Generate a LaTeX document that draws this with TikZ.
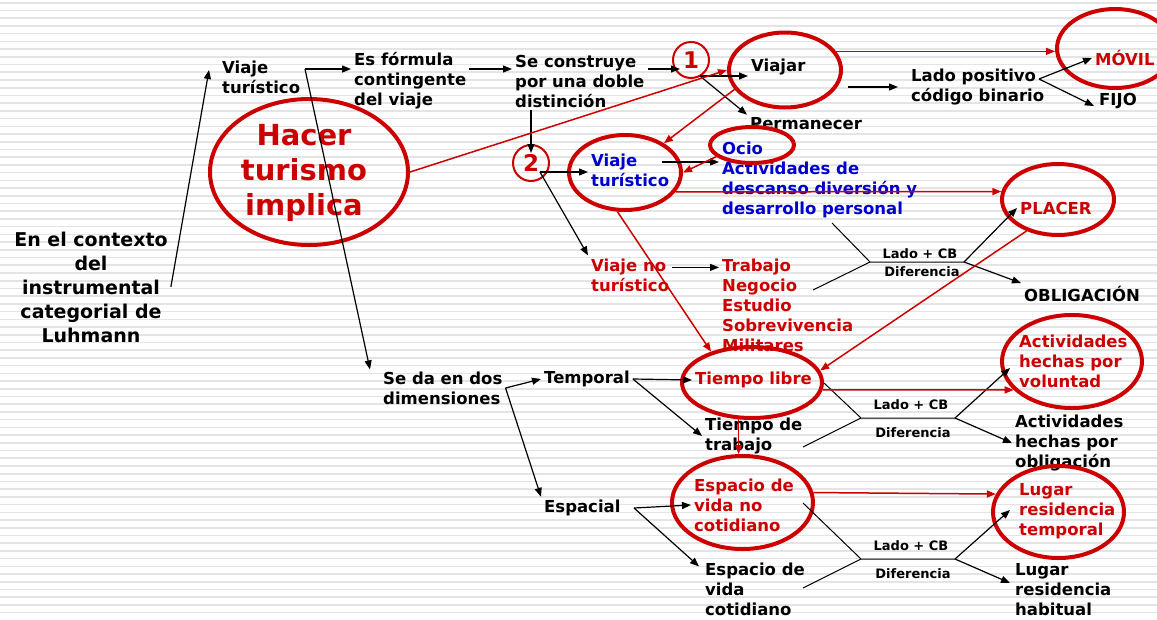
\documentclass[tikz,border=0pt]{standalone}
\usepackage{fontspec}
\setmainfont{DejaVu Sans}
\usetikzlibrary{arrows.meta,calc,shapes.geometric}

\definecolor{tred}{RGB}{204,0,0}
\definecolor{tblue}{RGB}{0,0,204}
\definecolor{stripegray}{RGB}{228,228,228}

\tikzset{
  txt/.style={anchor=west, align=left, inner sep=3pt,
    font=\bfseries\fontsize{16.5}{20}\selectfont},
  red txt/.style={txt, text=tred},
  blue txt/.style={txt, text=tblue},
  small txt/.style={inner sep=1pt, font=\bfseries\fontsize{13}{15}\selectfont},
  ring/.style={ellipse, draw=tred, line width=4pt, inner sep=0pt},
  num/.style={circle, draw=tred, line width=2pt, minimum size=36pt,
    inner sep=0pt, text=tred, font=\bfseries\fontsize{23}{23}\selectfont},
  arr/.style={-{Triangle[length=9pt,width=7pt]}, line width=1.2pt},
  red arr/.style={arr, draw=tred, line width=1.5pt},
  fork/.style={line width=1pt},
}

\begin{document}
\begin{tikzpicture}[x=1pt, y=-1pt]
  \useasboundingbox (0,0) rectangle (1157,619);
  % striped background
  \fill[white] (0,0) rectangle (1157,619);
  \foreach \i in {0,...,79}
    \draw[stripegray, line width=1.6pt] (0,{2.8+7.72*\i}) -- (1157,{2.8+7.72*\i});

  % texts
  \node[txt, anchor=center, align=center,
    font=\bfseries\fontsize{19}{24}\selectfont] (ctx) at (91,287)
    {En el contexto\\del\\instrumental\\categorial de\\Luhmann};
  \node[txt] (vt1) at (219,77) {Viaje\\turístico};
  \node[txt] (esf) at (351,81) {Es fórmula\\contingente\\del viaje};
  \node[txt] (secons) at (512,81) {Se construye\\por una doble\\distinción};
  \node[txt] (viajar) at (748,67) {Viajar};
  \node[txt] (perm) at (747,124) {Permanecer};
  \node[txt] (ladop) at (908,87) {Lado positivo\\código binario};
  \node[red txt] (movil) at (1092,58) {MÓVIL};
  \node[txt] (fijo) at (1096,101) {FIJO};
  \node[blue txt] (blue) at (719,180) {Ocio\\Actividades de\\descanso diversión y\\desarrollo personal};
  \node[blue txt] (vtur) at (588,170) {Viaje\\turístico};
  \node[red txt] (vnotur) at (588,275) {Viaje no\\turístico};
  \node[red txt] (trab) at (719,305) {Trabajo\\Negocio\\Estudio\\Sobrevivencia\\Militares};
  \node[red txt] (placer) at (1017,208) {PLACER};
  \node[txt] (oblig) at (1021,294) {OBLIGACIÓN};
  \node[txt] (seda) at (380,388) {Se da en dos\\dimensiones};
  \node[txt] (temporal) at (541,379) {Temporal};
  \node[txt] (espacial) at (541,508) {Espacial};
  \node[red txt] (tlibre) at (692,380) {Tiempo libre};
  \node[txt] (ttrab) at (702,436) {Tiempo de\\trabajo};
  \node[red txt] (voluntad) at (1016,361) {Actividades\\hechas por\\voluntad};
  \node[txt] (obligacion) at (1012,443) {Actividades\\hechas por\\obligación};
  \node[red txt] (espnc) at (691,505) {Espacio de\\vida no\\cotidiano};
  \node[txt] (espc) at (702,589) {Espacio de\\vida\\cotidiano};
  \node[red txt] (lugt) at (1016,511) {Lugar\\residencia\\temporal};
  \node[txt] (lugh) at (1012,590) {Lugar\\residencia\\habitual};
  \node[text=tred, font=\bfseries\fontsize{29}{35}\selectfont, align=center]
    (hacer) at (304,173) {Hacer\\turismo\\implica};

  % red rings
  \node[ring, minimum width=198pt, minimum height=146pt] (hacerE) at (309,172) {};
  \node[ring, minimum width=112pt, minimum height=75pt] (viajarE) at (785,70) {};
  \node[ring, minimum width=116pt, minimum height=79pt] (movilE) at (1115,48.5) {};
  \node[ring, minimum width=84pt, minimum height=36pt] (ocioE) at (752,145) {};
  \node[ring, minimum width=112pt, minimum height=75pt] (vturE) at (625,172.5) {};
  \node[ring, minimum width=112pt, minimum height=71pt] (placerE) at (1058,199.5) {};
  \node[ring, minimum width=140pt, minimum height=71pt] (tlibreE) at (752,382.5) {};
  \node[ring, minimum width=140pt, minimum height=93pt] (volE) at (1072,361.5) {};
  \node[ring, minimum width=141pt, minimum height=93pt] (espE) at (742.5,502.5) {};
  \node[ring, minimum width=131pt, minimum height=92pt] (lugE) at (1058.5,512) {};
  \node[num] (c1) at (691,60) {1};
  \node[num] (c2) at (531,163) {2};

  % black connectors
  \coordinate (fv) at (305,69);
  \coordinate (f1) at (700,76);
  \coordinate (fl) at (1039,79);
  \coordinate (f2) at (540,172);
  \coordinate (fe) at (634,508);
  \coordinate (fo) at ($(vtur.east)+(-10,-8)$);
  \coordinate (ft) at ($(vnotur.north east)+(0,12)$);
  \draw[arr] (ctx.east) -- ($(vt1.west)+(-10,-7)$);
  \draw[arr] (fv) -- (fv -| esf.west);
  \draw[arr] (fv) -- ($(seda.north west)+(-10,1)$);
  \draw[arr] (esf.east |- fv) -- (secons.west |- fv);
  \draw[arr] (secons.east |- fv) -- ($(c1.west |- fv)+(8,0)$);
  \draw[arr] (f1) -- (f1 -| viajar.west);
  \draw[arr] (f1) -- (perm.north west);
  \draw[arr, shorten <=5pt] (viajarE.east |- ladop.west) -- ($(ladop.west)+(-10,0)$);
  \draw[arr] (fl) -- (movil.west);
  \draw[arr] (fl) -- ($(fijo.west)+(-2,5)$);
  \draw[arr] (c2 |- secons.south) -- ($(c2.north)+(0,9)$);
  \draw[arr] (f2) -- (f2 -| vtur.west);
  \draw[arr] (f2) -- (vnotur.north west);
  \draw[arr] (fo) -- (fo -| blue.west);
  \draw[arr] (ft) -- (ft -| trab.west);
  \draw[arr] (seda.east) -- (temporal.west);
  \draw[arr] (seda.east) -- (espacial.north west);
  \draw[arr] (temporal.east) -- (tlibre.west);
  \draw[arr] (temporal.east) -- (ttrab.west);
  \draw[arr] (fe) -- (espnc.west);
  \draw[arr] (fe) -- ($(espc.north west)+(-3,7)$);

  % Lado + CB forks
  \coordinate (aA) at (832,223); \coordinate (bA) at (813,290);
  \coordinate (jA) at (870,262); \coordinate (kA) at (964,262);
  \draw[fork] (aA) -- (jA) -- (bA) (jA) -- (kA);
  \draw[arr] (kA) -- (placer.west);
  \draw[arr] (kA) -- (oblig.north west);
  \node[small txt] at (920,254) {Lado + CB};
  \node[small txt] at (922,272) {Diferencia};

  \coordinate (aB) at (824,383); \coordinate (bB) at (803,447);
  \coordinate (jB) at (861,418); \coordinate (kB) at (955,418);
  \draw[fork] (aB) -- (jB) -- (bB) (jB) -- (kB);
  \draw[arr] (kB) -- ($(voluntad.west)+(-6,7)$);
  \draw[arr] (kB) -- (obligacion.west);
  \node[small txt] at (911,405) {Lado + CB};
  \node[small txt] at (913,433) {Diferencia};

  \coordinate (aC) at (803,503); \coordinate (bC) at (803,588);
  \coordinate (jC) at (861,559); \coordinate (kC) at (955,559);
  \draw[fork] (aC) -- (jC) -- (bC) (jC) -- (kC);
  \draw[arr] (kC) -- ($(lugt.west)+(-6,-1)$);
  \draw[arr] (kC) -- ($(lugh.west)+(-2,-7)$);
  \node[small txt] at (911,546) {Lado + CB};
  \node[small txt] at (913,574) {Diferencia};

  % red connectors
  \draw[red arr] (hacerE.east) -- (viajarE.west);
  \draw[red arr] (viajarE.201) -- (vturE.37);
  \draw[red arr] (ocioE.198) -- (vturE.east);
  \draw[red arr] (vturE.-21) -- (placerE.172);
  \draw[red arr] (vturE.259) -- (tlibreE.143);
  \draw[red arr] (placerE.225) -- (tlibreE.10);
  \draw[red arr] (viajarE.20) -- (viajarE.20 -| movilE.west);
  \draw[red arr] (tlibreE.-6) -- (volE.206);
  \draw[red arr] (tlibreE.250) -- (tlibreE.250 |- espE.north);
  \draw[red arr] (espE.8) -- (lugE.164);
\end{tikzpicture}
\end{document}
